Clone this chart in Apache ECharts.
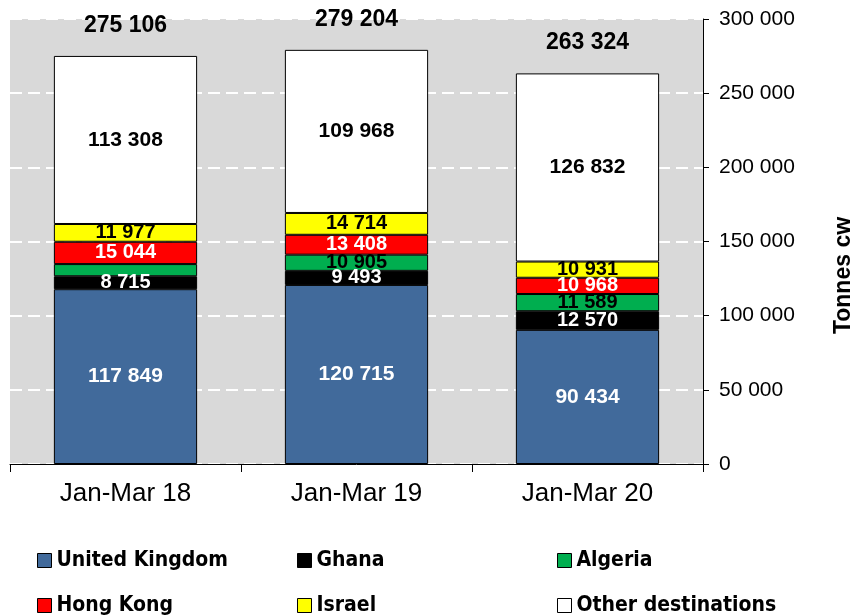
<!DOCTYPE html>
<html>
<head>
<meta charset="utf-8">
<script src="https://cdn.jsdelivr.net/npm/echarts@6/dist/echarts.min.js"></script>
<style>
  html, body { margin: 0; padding: 0; background: #fff; }
  #chart { width: 856px; height: 616px; }
</style>
</head>
<body>
<div id="chart"></div>
<script>
var categories = ['Jan-Mar 18', 'Jan-Mar 19', 'Jan-Mar 20'];
var unitedKingdom = [117849, 120715, 90434];
var ghana = [8715, 9493, 12570];
var algeria = [8213, 10905, 11589];
var hongKong = [15044, 13408, 10968];
var israel = [11977, 14714, 10931];
var otherDest = [113308, 109968, 126832];
var totals = [275106, 279204, 263324];
var algeriaLabelHidden = [true, false, false];
var yTicks = [0, 50000, 100000, 150000, 200000, 250000, 300000];

function fmt(v) {
    return String(v).replace(/\B(?=(\d{3})+(?!\d))/g, ' ');
}

var myChart = echarts.init(document.getElementById('chart'));

function seg(name, data, color, labelColor, size, hidden) {
    return {
        name: name,
        type: 'bar',
        stack: 'total',
        barWidth: '62%',
        data: data,
        itemStyle: { color: color, borderColor: '#000', borderWidth: 1 },
        label: {
            show: true,
            position: 'inside',
            color: labelColor,
            fontFamily: 'Liberation Sans',
            fontWeight: 'bold',
            fontSize: size,
            formatter: function (p) {
                if (hidden && hidden[p.dataIndex]) return '';
                return fmt(p.value);
            }
        }
    };
}

var legendNames = [
    ['United Kingdom', 37, 550], ['Ghana', 297, 550], ['Algeria', 557, 550],
    ['Hong Kong', 37, 595], ['Israel', 297, 595], ['Other destinations', 557, 595]
];
var legends = legendNames.map(function (l) {
    return {
        data: [l[0]],
        left: l[1],
        top: l[2],
        padding: 0,
        icon: 'rect',
        itemWidth: 14,
        itemHeight: 14,
        itemGap: 6,
        selectedMode: false,
        itemStyle: { borderColor: '#000', borderWidth: 1 },
        textStyle: {
            fontFamily: 'DejaVu Sans Condensed, Liberation Sans Narrow, sans-serif',
            fontWeight: 'bold',
            fontSize: 21,
            color: '#000'
        }
    };
});

var option = {
    animation: false,
    backgroundColor: '#fff',
    legend: legends,
    grid: {
        left: 10,
        right: 153,
        top: 19,
        bottom: 152,
        outerBoundsMode: 'none',
        containLabel: false,
        show: true,
        backgroundColor: '#d9d9d9',
        borderWidth: 0
    },
    xAxis: {
        type: 'category',
        data: categories,
        axisLine: { lineStyle: { color: '#000', width: 1 } },
        axisTick: { show: true, length: 8, lineStyle: { color: '#000' } },
        axisLabel: {
            color: '#000',
            fontFamily: 'Liberation Sans',
            fontSize: 26,
            margin: 17
        }
    },
    yAxis: {
        type: 'value',
        position: 'right',
        min: 0,
        max: 300000,
        interval: 50000,
        name: 'Tonnes cw',
        nameLocation: 'middle',
        nameGap: 129,
        nameRotate: 90,
        nameTextStyle: {
            color: '#000',
            fontFamily: 'Liberation Sans',
            fontWeight: 'bold',
            fontSize: 23,
            padding: [0, 68, 0, 0]
        },
        axisLine: { show: true, lineStyle: { color: '#000', width: 1 } },
        axisTick: { show: true, length: 6, lineStyle: { color: '#000' } },
        axisLabel: {
            color: '#000',
            fontFamily: 'Liberation Sans',
            fontSize: 21,
            margin: 16,
            formatter: function (v) {
                return yTicks.indexOf(v) >= 0 ? fmt(v) : '';
            }
        },
        splitLine: {
            show: true,
            lineStyle: { color: '#fff', type: [12, 6], width: 2 }
        }
    },
    series: [
        seg('United Kingdom', unitedKingdom, '#416a9b', '#fff', 21),
        seg('Ghana', ghana, '#000000', '#fff', 20),
        seg('Algeria', algeria, '#00ae4f', '#000', 20, algeriaLabelHidden),
        seg('Hong Kong', hongKong, '#ff0000', '#fff', 20),
        seg('Israel', israel, '#ffff00', '#000', 20),
        seg('Other destinations', otherDest, '#ffffff', '#000', 21),
        {
            name: 'Total',
            type: 'bar',
            barWidth: '62%',
            barGap: '-100%',
            data: totals,
            z: 1,
            itemStyle: { color: 'rgba(0,0,0,0)' },
            label: {
                show: true,
                position: 'top',
                distance: 19,
                color: '#000',
                fontFamily: 'Liberation Sans',
                fontWeight: 'bold',
                fontSize: 23,
                formatter: function (p) { return fmt(p.value); }
            }
        }
    ]
};
myChart.setOption(option);
</script>
</body>
</html>
